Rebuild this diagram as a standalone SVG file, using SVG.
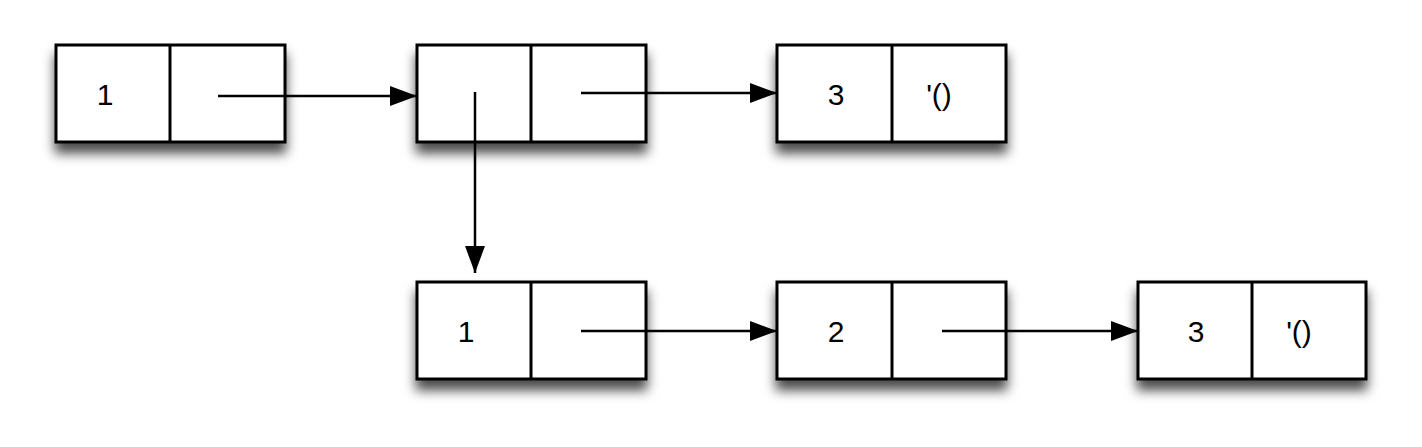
<svg xmlns="http://www.w3.org/2000/svg" width="1422" height="447" viewBox="0 0 1422 447">
<style>
.box{fill:#fff;stroke:#000;stroke-width:3}
.div{stroke:#000;stroke-width:3}
.t{fill:#000;text-anchor:middle}
.c{stroke:#000;stroke-width:2.5;fill:none}
</style>
<defs>
<filter id="sh" x="-20%" y="-30%" width="140%" height="180%">
<feDropShadow dx="0" dy="10" stdDeviation="6" flood-color="#000" flood-opacity="0.7"/>
</filter>
<marker id="ah" markerWidth="28" markerHeight="20" refX="27" refY="10" orient="auto" markerUnits="userSpaceOnUse">
<path d="M0,0 L27,10 L0,20 Z" fill="#000"/>
</marker>
</defs>
<g font-family="'Liberation Sans', Arial, sans-serif" font-size="30">
<g id="n1"><rect class="box" x="56" y="45" width="229" height="97" filter="url(#sh)"/><line class="div" x1="170" y1="45" x2="170" y2="142"/><text class="t" x="105" y="105">1</text></g>
<g id="n2"><rect class="box" x="417" y="45" width="229" height="97" filter="url(#sh)"/><line class="div" x1="531" y1="45" x2="531" y2="142"/></g>
<g id="n3"><rect class="box" x="777" y="45" width="229" height="97" filter="url(#sh)"/><line class="div" x1="892" y1="45" x2="892" y2="142"/><text class="t" x="836" y="105">3</text><text class="t" x="939" y="105">'()</text></g>
<g id="n4"><rect class="box" x="417" y="282" width="229" height="97" filter="url(#sh)"/><line class="div" x1="531" y1="282" x2="531" y2="379"/><text class="t" x="466" y="342">1</text></g>
<g id="n5"><rect class="box" x="777" y="282" width="229" height="97" filter="url(#sh)"/><line class="div" x1="892" y1="282" x2="892" y2="379"/><text class="t" x="836" y="342">2</text></g>
<g id="n6"><rect class="box" x="1138" y="282" width="228" height="97" filter="url(#sh)"/><line class="div" x1="1252" y1="282" x2="1252" y2="379"/><text class="t" x="1196" y="342">3</text><text class="t" x="1299" y="342">'()</text></g>
</g>
<g id="connectors">
<line class="c" x1="218" y1="96" x2="417" y2="96" marker-end="url(#ah)"/>
<line class="c" x1="581" y1="93" x2="777" y2="93" marker-end="url(#ah)"/>
<line class="c" x1="475" y1="92" x2="475" y2="273" marker-end="url(#ah)"/>
<line class="c" x1="581" y1="331" x2="777" y2="331" marker-end="url(#ah)"/>
<line class="c" x1="942" y1="331" x2="1138" y2="331" marker-end="url(#ah)"/>
</g>
</svg>
